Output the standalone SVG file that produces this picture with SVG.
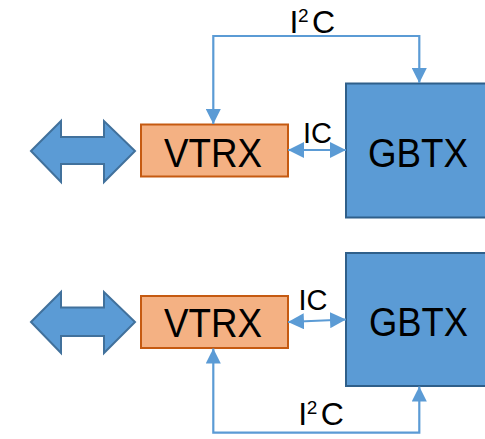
<svg xmlns="http://www.w3.org/2000/svg" width="485" height="439" viewBox="0 0 485 439">
  <style>
    .vtrx { fill: #F4B183; stroke: #C55A11; stroke-width: 2; }
    .gbtx { fill: #5B9BD5; stroke: #2F5F8A; stroke-width: 2; }
    .fat { fill: #5B9BD5; stroke: #41719C; stroke-width: 2; stroke-linejoin: miter; }
    .wire { fill: none; stroke: #5B9BD5; stroke-width: 2.2; }
    .lbl { font-family: "Liberation Sans", Arial, sans-serif; fill: #000; }
  </style>
  <defs>
    <marker id="head" viewBox="0 0 15 15" refX="15" refY="7.5" markerWidth="15" markerHeight="15" markerUnits="userSpaceOnUse" orient="auto-start-reverse">
      <path d="M0,0 L15,7.5 L0,15 z" fill="#5B9BD5"/>
    </marker>
    <marker id="headS" viewBox="0 0 16 16" refX="16" refY="8" markerWidth="16" markerHeight="16" markerUnits="userSpaceOnUse" orient="auto-start-reverse">
      <path d="M0,0 L16,8 L0,16 z" fill="#5B9BD5"/>
    </marker>
  </defs>

  <!-- upper link -->
  <g id="link-top">
    <polygon class="fat" points="31,151 61,121 61,137 104,137 104,121 135,151 104,182 104,164 61,164 61,182"/>
  </g>
  <g id="vtrx-top">
    <rect class="vtrx" x="141" y="124.5" width="147" height="52"/>
    <text class="lbl" x="164" y="166.5" font-size="40" textLength="98" lengthAdjust="spacingAndGlyphs">VTRX</text>
  </g>
  <g id="gbtx-top">
    <rect class="gbtx" x="346" y="83.5" width="150" height="134"/>
    <text class="lbl" x="368" y="166.5" font-size="40" textLength="100" lengthAdjust="spacingAndGlyphs">GBTX</text>
  </g>

  <!-- lower link -->
  <g id="link-bottom">
    <polygon class="fat" points="31,322 61,292 61,307.5 104,307.5 104,292 135,322 104,353 104,336 61,336 61,353"/>
  </g>
  <g id="vtrx-bottom">
    <rect class="vtrx" x="141" y="296" width="147" height="52"/>
    <text class="lbl" x="164" y="337.3" font-size="40" textLength="98" lengthAdjust="spacingAndGlyphs">VTRX</text>
  </g>
  <g id="gbtx-bottom">
    <rect class="gbtx" x="346" y="253" width="150" height="133"/>
    <text class="lbl" x="369" y="336" font-size="40" textLength="99" lengthAdjust="spacingAndGlyphs">GBTX</text>
  </g>

  <!-- connectors -->
  <g id="connectors">
    <path class="wire" d="M213.3,124 V36 H419.3 V83" marker-start="url(#head)" marker-end="url(#head)"/>
    <path class="wire" d="M288,150 H346" marker-start="url(#headS)" marker-end="url(#headS)"/>
    <path class="wire" d="M288,322 L346,319.5" marker-start="url(#headS)" marker-end="url(#headS)"/>
    <path class="wire" d="M213.3,348.5 V432.7 H419.3 V386.5" marker-start="url(#head)" marker-end="url(#head)"/>

    <text class="lbl" y="32.7" font-size="32"><tspan x="289.5">I</tspan><tspan x="298" dy="-11" font-size="19">2</tspan><tspan x="312" dy="11">C</tspan></text>
    <text class="lbl" x="303" y="143" font-size="30" textLength="29" lengthAdjust="spacingAndGlyphs">IC</text>
    <text class="lbl" x="298.5" y="310" font-size="30" textLength="29" lengthAdjust="spacingAndGlyphs">IC</text>
    <text class="lbl" y="425" font-size="32"><tspan x="298.2">I</tspan><tspan x="306.7" dy="-11" font-size="19">2</tspan><tspan x="320.7" dy="11">C</tspan></text>
  </g>
</svg>
